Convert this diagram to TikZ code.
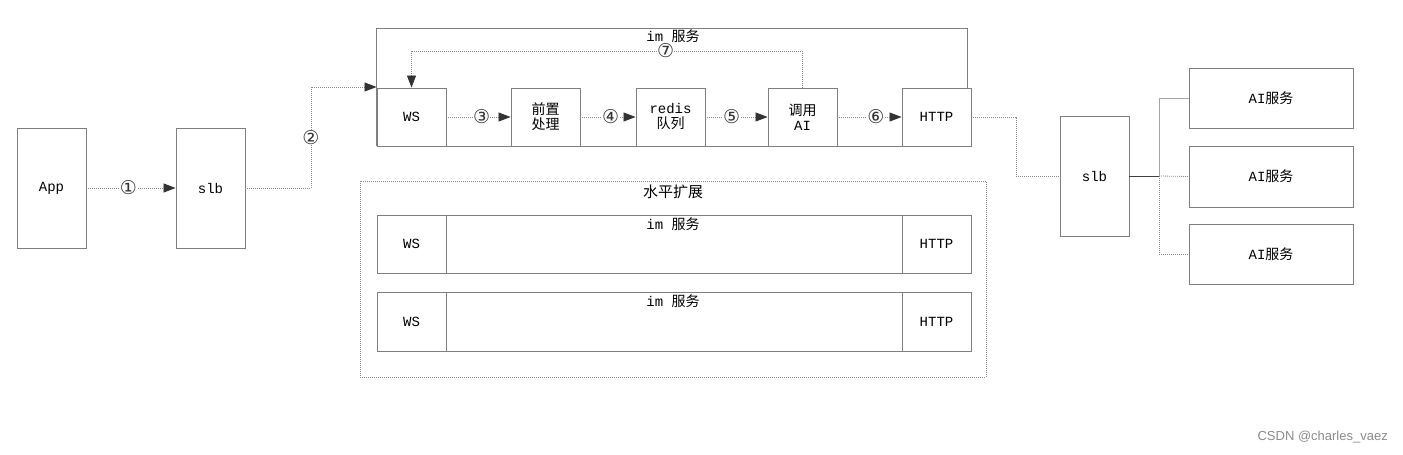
\documentclass[tikz,border=0pt]{standalone}
\usepackage{fontspec}
\setmainfont{Liberation Mono}
\newfontfamily\cjk{Noto Sans CJK SC}
\newfontfamily\wmfont{Liberation Sans}
\newfontfamily\numfont{DejaVu Sans}
\usetikzlibrary{arrows.meta}
\definecolor{boxgray}{HTML}{7F7F7F}
\definecolor{linegray}{HTML}{8A8A8A}
\definecolor{tipgray}{HTML}{333333}
\tikzset{
  box/.style={draw=boxgray, line width=0.9pt, fill=white, inner sep=0pt, align=center, font=\fontsize{14}{15}\selectfont},
  dotline/.style={draw=linegray, line width=0.8pt, dash pattern=on 1pt off 1pt},
  solidline/.style={draw=boxgray, line width=0.9pt},
  arr/.style={-{Triangle[length=12pt,width=9pt,color=tipgray]}},
  num/.style={fill=white, inner sep=0pt, font=\numfont\fontsize{19}{19}\selectfont, text=tipgray},
  lbl/.style={font=\fontsize{14}{15}\selectfont, inner sep=0pt}
}
\begin{document}
\begin{tikzpicture}[x=1pt,y=-1pt]
\useasboundingbox[fill=white] (0,0) rectangle (1403,455);
% left boxes
\node[box, minimum width=69pt, minimum height=120pt] (app) at (51.5,188) {App};
\node[box, minimum width=69pt, minimum height=120pt] (slba) at (210.5,188) {slb};
% im service (main)
\coordinate (imtl) at (377,28);
\coordinate (imtr) at (967,28);
\node[box, minimum width=69pt, minimum height=58pt] (ws) at (411.5,117) {WS};
\node[box, minimum width=69pt, minimum height=58pt] (pre) at (545.5,117) {{\cjk 前置}\\{\cjk 处理}};
\node[box, minimum width=69pt, minimum height=58pt] (redis) at (670.5,117) {redis\\{\cjk 队列}};
\node[box, minimum width=69pt, minimum height=58pt] (ai) at (802.5,117) {{\cjk 调用}\\AI};
\node[box, minimum width=69pt, minimum height=58pt] (http) at (936.5,117) {HTTP};
\draw[solidline] (ws.south west) -- (ws.south west |- imtl) -- (imtr) -- (imtr |- http.north);
\draw[solidline] (ws.south west) -- (http.south east);
\node[lbl] (imtitle) at (673,36) {im {\cjk 服务}};
% connectors inside
\draw[dotline, arr] (ws.east) -- node[num, pos=0.55]{③} (pre.west);
\draw[dotline, arr] (pre.east) -- node[num, pos=0.55]{④} (redis.west);
\draw[dotline, arr] (redis.east) -- node[num, pos=0.42]{⑤} (ai.west);
\draw[dotline, arr] (ai.east) -- node[num, pos=0.6]{⑥} (http.west);
\draw[dotline, arr] (ai.north) -- (ai.north |- 0,51) -- node[num, pos=0.35]{⑦} (ws.north |- 0,51) -- (ws.north);
% left connectors
\draw[dotline, arr] (app.east) -- node[num, pos=0.47]{①} (slba.west);
\coordinate (c2a) at (311,188);
\coordinate (c2b) at (311,87);
\draw[dotline, arr] (slba.east) -- (c2a) -- node[num]{②} (c2b) -- (ws.north west |- c2b);
% horizontal scaling
\node[draw=linegray, line width=0.8pt, dash pattern=on 1pt off 1pt, minimum width=626pt, minimum height=196pt, inner sep=0pt] (hs) at (673,279) {};
\node[lbl, font=\cjk\fontsize{15}{15}\selectfont] (hstitle) at (673,192) {水平扩展};
\node[box, minimum width=594pt, minimum height=58pt] (row1) at (674,244) {};
\node[box, minimum width=69pt, minimum height=58pt] (ws1) at (411.5,244) {WS};
\node[box, minimum width=69pt, minimum height=58pt] (http1) at (936.5,244) {HTTP};
\node[lbl] (t1) at (673,224) {im {\cjk 服务}};
\node[box, minimum width=594pt, minimum height=59pt] (row2) at (674,321.5) {};
\node[box, minimum width=69pt, minimum height=59pt] (ws2) at (411.5,321.5) {WS};
\node[box, minimum width=69pt, minimum height=59pt] (http2) at (936.5,321.5) {HTTP};
\node[lbl] (t2) at (673,301) {im {\cjk 服务}};
% right side
\node[box, minimum width=69pt, minimum height=120pt] (slbb) at (1094.5,176) {slb};
\node[box, minimum width=164pt, minimum height=60pt] (ai1) at (1271,98) {AI{\cjk 服务}};
\node[box, minimum width=164pt, minimum height=61pt] (ai2) at (1271,176.5) {AI{\cjk 服务}};
\node[box, minimum width=164pt, minimum height=60pt] (ai3) at (1271,254) {AI{\cjk 服务}};
\coordinate (h1) at (1016,117);
\coordinate (h2) at (1016,176);
\draw[dotline] (http.east |- h1) -- (h1) -- (h2) -- (slbb.west);
\coordinate (sp) at (1159,176);
\draw[draw=black!75, line width=0.9pt] (slbb.east) -- (sp);
\draw[solidline, draw=gray!70] (sp) |- (ai1.west);
\draw[dotline] (sp) -- (ai2.west);
\draw[dotline] (sp) |- (ai3.west);
% watermark
\node[font=\wmfont\fontsize{13}{13}\selectfont, text=black!45, anchor=east, inner sep=0pt] (wm) at (1388,437) {CSDN @charles\_vaez};
\end{tikzpicture}
\end{document}
